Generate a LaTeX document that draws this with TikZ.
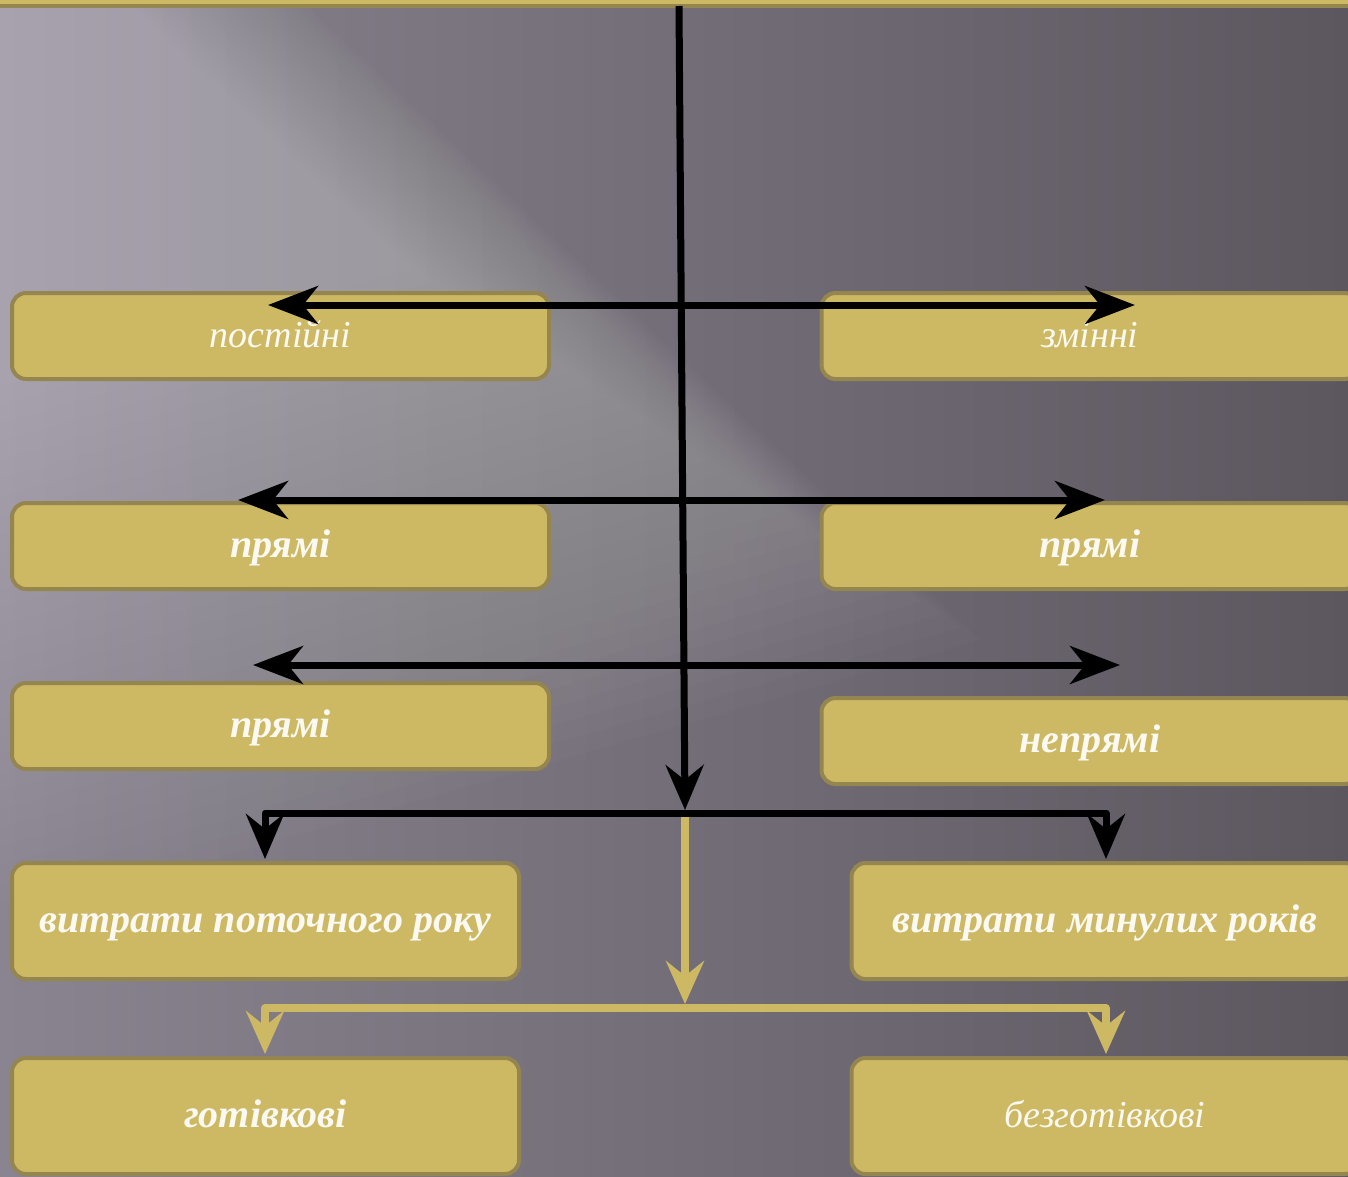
\documentclass[tikz,border=0pt]{standalone}
\usepackage{fontspec}
\setmainfont{Liberation Serif}
\usetikzlibrary{arrows.meta}
\definecolor{bgL}{HTML}{8A8490}
\definecolor{bgD}{HTML}{5C575F}
\definecolor{gold}{HTML}{CDB964}
\definecolor{goldD}{HTML}{958650}
\definecolor{txt}{HTML}{FBF9F2}
\tikzset{
  gbox/.style={rounded corners=14pt, fill=gold, draw=goldD, line width=4pt,
    text=txt, font=\fontsize{38}{44}\selectfont\itshape, inner sep=0pt,
    text height=23pt, text depth=0pt},
  wide/.style={minimum width=537pt, minimum height=86pt},
  wider/.style={minimum width=507pt, minimum height=116pt},
  bf/.style={font=\fontsize{40}{46}\selectfont\bfseries\itshape},
  blk/.style={draw=black, line width=7pt, line join=round},
  glk/.style={draw=gold, line width=7.5pt, line join=round},
  bh/.tip={Stealth[length=50pt, width=38pt, inset=15pt]},
  dh/.tip={Stealth[length=45pt, width=38pt, inset=15pt]},
  gh/.tip={Stealth[length=43pt, width=38pt, inset=15pt]},
}
\begin{document}
\begin{tikzpicture}[x=1pt,y=-1pt]
\useasboundingbox (0,0) rectangle (1348,1176);
\clip (0,0) rectangle (1348,1176);
% background
\shade[left color=bgL, right color=bgD] (0,0) rectangle (1348,1176);
\foreach \s in {1.0,0.98,...,0.4}
  \fill[white, opacity=0.014, scale around={\s:(0,0)}]
    (0,0) -- (300,0) -- (980,640) -- (0,920) -- cycle;
% top bar
\fill[goldD] (0,0) rectangle (1348,8);
\fill[gold] (0,0) rectangle (1348,3.5);
% boxes
\node[gbox, wide] (b1l) at (280.5,336) {постійні};
\node[gbox, wide] (b1r) at (1090,336) {змінні};
\node[gbox, wide, bf] (b2l) at (280.5,546) {прямі};
\node[gbox, wide, bf] (b2r) at (1090,546) {прямі};
\node[gbox, wide, bf] (b3l) at (280.5,726) {прямі};
\node[gbox, wide, bf] (b3r) at (1090,741) {непрямі};
\node[gbox, wider, bf] (b4l) at (265.5,921) {витрати поточного року};
\node[gbox, wider, bf] (b4r) at (1105,921) {витрати минулих років};
\node[gbox, wider, bf] (b5l) at (265.5,1116) {готівкові};
\node[gbox, wider] (b5r) at (1105,1116) {безготівкові};
% coordinates
\coordinate (top) at (679,6);
\coordinate (hub) at (685,810);
\coordinate (hubL) at (265,813);
\coordinate (hubR) at (1106,813);
\coordinate (l1) at (268,305);  \coordinate (r1) at (1135,305);
\coordinate (l2) at (238,500);  \coordinate (r2) at (1105,500);
\coordinate (l3) at (253,665);  \coordinate (r3) at (1120,665);
\coordinate (d4l) at (265,859); \coordinate (d4r) at (1106,859);
\coordinate (gtop) at (685,817);
\coordinate (ghub) at (685,1004);
\coordinate (gL) at (265,1008);  \coordinate (gR) at (1106,1008);
\coordinate (d5l) at (265,1054); \coordinate (d5r) at (1106,1054);
% black connectors
\draw[blk, {bh}-{bh}] (l1) -- (r1);
\draw[blk, {bh}-{bh}] (l2) -- (r2);
\draw[blk, {bh}-{bh}] (l3) -- (r3);
\draw[blk, {dh}-{dh}] (d4l) -- (hubL) -- (hubR) -- (d4r);
\draw[blk, -{dh}] (top) -- (hub);
% gold connectors
\draw[glk, -{gh}] (gtop) -- (ghub);
\draw[glk, {gh}-{gh}] (d5l) -- (gL) -- (gR) -- (d5r);
\end{tikzpicture}
\end{document}
